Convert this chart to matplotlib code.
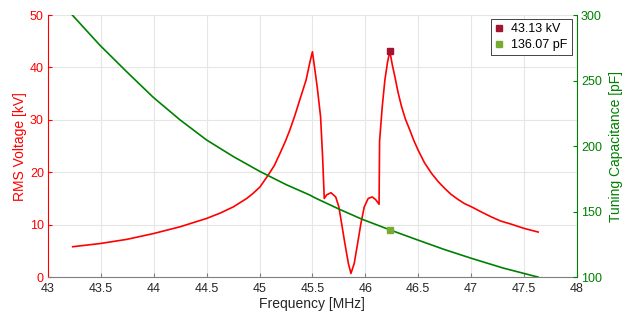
import matplotlib
matplotlib.use('Agg')
import matplotlib.pyplot as plt
from matplotlib.lines import Line2D

plt.rcParams['font.family'] = ['Liberation Sans', 'DejaVu Sans']

# RMS voltage vs frequency
freq_v = [43.233, 43.49, 43.744, 43.995, 44.248, 44.5, 44.626, 44.752, 44.878, 44.94,
          45.004, 45.083, 45.14, 45.193, 45.24, 45.287, 45.335, 45.38, 45.44, 45.476, 45.5,
          45.545, 45.577, 45.596, 45.605, 45.612, 45.635, 45.675, 45.72, 45.75, 45.776,
          45.807, 45.84, 45.864, 45.895, 45.927, 45.958, 45.99, 46.027, 46.065, 46.097,
          46.13, 46.135, 46.16, 46.185, 46.21, 46.232,
          46.255, 46.28, 46.31, 46.343, 46.38, 46.42, 46.46, 46.5, 46.56, 46.626, 46.69,
          46.752, 46.81, 46.878, 46.94, 47.005, 47.1, 47.19, 47.28, 47.38, 47.5, 47.634]
volt_kv = [5.8, 6.4, 7.2, 8.3, 9.6, 11.2, 12.2, 13.4, 15.0, 16.0,
           17.2, 19.5, 21.3, 23.6, 25.7, 28.1, 30.9, 33.8, 37.6, 41.0, 43.0,
           36.3, 30.6, 23.0, 18.5, 15.0, 15.7, 16.1, 15.3, 13.4, 10.2,
           6.4, 2.6, 0.7, 2.6, 6.4, 10.2, 13.4, 15.0, 15.3, 14.8,
           13.9, 26.0, 32.5, 37.6, 41.0, 43.13,
           40.5, 38.2, 35.2, 32.5, 30.1, 28.1, 26.0, 24.2, 21.8, 19.8, 18.2,
           16.9, 15.8, 14.8, 14.0, 13.4, 12.4, 11.5, 10.7, 10.1, 9.3, 8.6]

# tuning capacitance vs frequency
freq_c = [43.224, 43.49, 43.744, 43.995, 44.248, 44.5, 44.752, 45.004, 45.256, 45.476,
          45.524, 45.76, 45.965, 46.232, 46.5, 46.75, 47.005, 47.3, 47.634]
cap_pf = [300.5, 277, 256.7, 237.2, 220, 204.6, 192, 180.6, 170.4, 162.6,
          160.5, 151.6, 144.3, 136.07, 128.2, 121, 114.3, 107, 100]

peak_f = 46.232
peak_v = 43.13
peak_c = 136.07

red = '#ff0000'
green = '#008000'
grey = '#262626'

fig = plt.figure(figsize=(6.27, 3.2), dpi=100)
ax = fig.add_axes([0.0766, 0.134, 0.8434, 0.819])
ax2 = ax.twinx()

ax.plot(freq_v, volt_kv, color=red, lw=1.2, zorder=3)
ax2.plot(freq_c, cap_pf, color=green, lw=1.2, zorder=3)
ax.plot([peak_f], [peak_v], 's', color='#a2142f', ms=4.5, zorder=4)
ax2.plot([peak_f], [peak_c], 's', color='#77ac30', ms=4.5, zorder=4)

ax.set_xlim(43, 48)
ax.set_ylim(0, 50)
ax2.set_ylim(100, 300)
ax.set_xticks([43, 43.5, 44, 44.5, 45, 45.5, 46, 46.5, 47, 47.5, 48])
ax.set_xticklabels(['43', '43.5', '44', '44.5', '45', '45.5', '46', '46.5', '47', '47.5', '48'])
ax.set_yticks([0, 10, 20, 30, 40, 50])
ax2.set_yticks([100, 150, 200, 250, 300])

ax.grid(color='#e6e6e6', lw=0.8)
ax.set_axisbelow(True)

for a in (ax, ax2):
    a.spines['top'].set_visible(False)
ax.spines['bottom'].set_color('#7f7f7f')
ax.spines['left'].set_color(red)
ax.spines['right'].set_visible(False)
ax2.spines['left'].set_visible(False)
ax2.spines['bottom'].set_visible(False)
ax2.spines['right'].set_color(green)

ax.tick_params(axis='x', direction='in', length=3, colors=grey, labelsize=9, pad=4)
ax.tick_params(axis='x', color='#7f7f7f')
ax.tick_params(axis='y', direction='in', length=3, colors=red, labelsize=9, pad=3)
ax2.tick_params(axis='y', direction='in', length=3, colors=green, labelsize=9, pad=3)

ax.set_xlabel('Frequency [MHz]', fontsize=10, color=grey, labelpad=2)
ax.set_ylabel('RMS Voltage [kV]', fontsize=10, color=red, labelpad=2)
ax2.set_ylabel('Tuning Capacitance [pF]', fontsize=10, color=green, labelpad=5)

handles = [Line2D([], [], ls='none', marker='s', color='#a2142f', ms=4.5),
           Line2D([], [], ls='none', marker='s', color='#77ac30', ms=4.5)]
leg = ax2.legend(handles, ['%.2f kV' % peak_v, '%.2f pF' % peak_c], loc='upper right',
                 bbox_to_anchor=(0.991, 0.985), fontsize=9, fancybox=False,
                 edgecolor='#262626', framealpha=1, handlelength=0.6, handletextpad=0.7,
                 borderpad=0.35, labelspacing=0.3, borderaxespad=0)
leg.get_frame().set_linewidth(0.6)

fig.savefig('out.png', dpi=100)
